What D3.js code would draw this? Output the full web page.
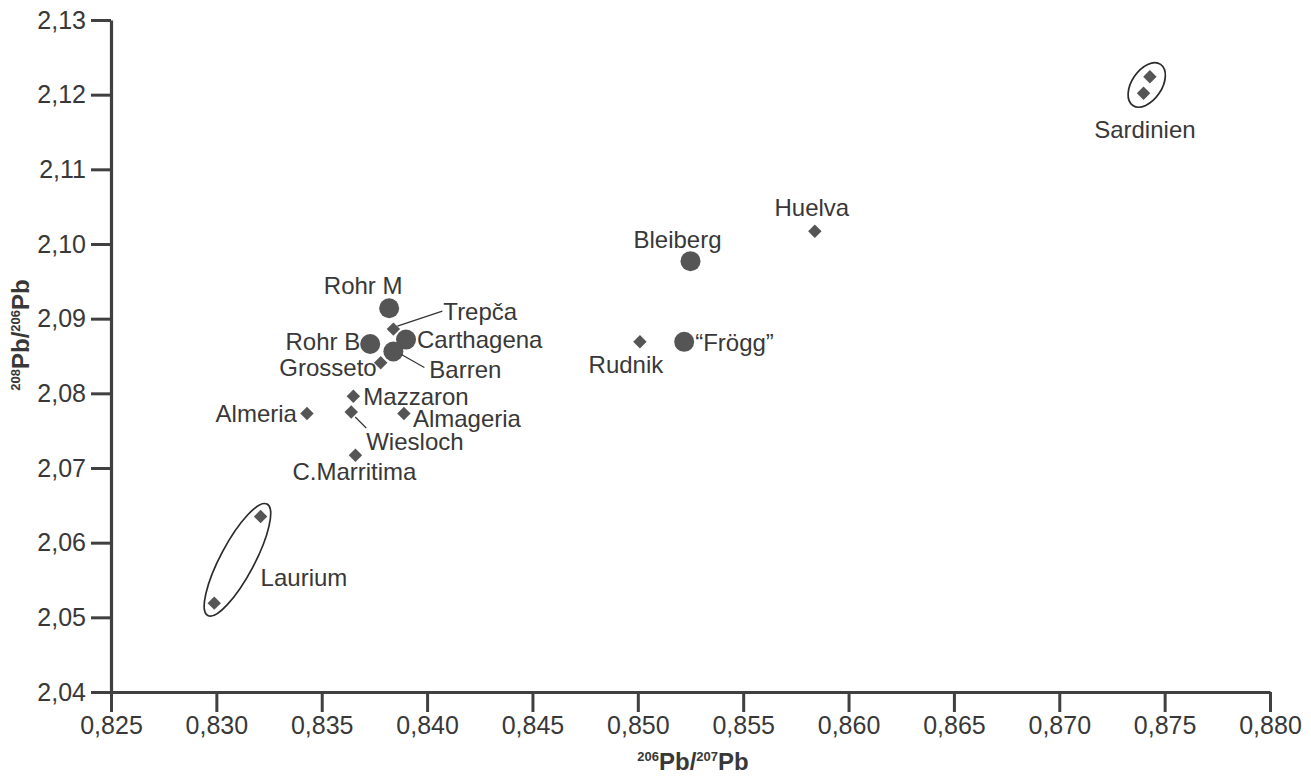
<!DOCTYPE html>
<html>
<head>
<meta charset="utf-8">
<script src="https://cdn.jsdelivr.net/npm/d3@7"></script>
<style>
  body { margin: 0; background: #fff; }
  svg text { font-family: "Liberation Sans", Arial, Helvetica, sans-serif; }
</style>
</head>
<body>
<svg id="chart" width="1311" height="779"></svg>
<script>
// lead isotope ratios
var sites = ["Sardinien", "Sardinien", "Huelva", "Bleiberg", "\u201cFrögg\u201d", "Rudnik",
  "Rohr M", "Trepča", "Carthagena", "Rohr B", "Barren", "Grosseto", "Mazzaron",
  "Wiesloch", "Almeria", "Almageria", "C.Marritima", "Laurium", "Laurium"];
var pb206_207 = [0.8743, 0.8740, 0.8584, 0.8525, 0.8522, 0.8501,
  0.8382, 0.8384, 0.8390, 0.8373, 0.8384, 0.8378, 0.8365,
  0.8364, 0.8343, 0.8389, 0.8366, 0.8321, 0.8299];
var pb208_206 = [2.1224, 2.1202, 2.1017, 2.0977, 2.0869, 2.0869,
  2.0914, 2.0886, 2.0872, 2.0866, 2.0856, 2.0841, 2.0796,
  2.0775, 2.0773, 2.0773, 2.0717, 2.0635, 2.0519];
var markers = ["diamond", "diamond", "diamond", "circle", "circle", "diamond",
  "circle", "diamond", "circle", "circle", "circle", "diamond", "diamond",
  "diamond", "diamond", "diamond", "diamond", "diamond", "diamond"];
var xTicks = [0.825, 0.830, 0.835, 0.840, 0.845, 0.850, 0.855, 0.860, 0.865, 0.870, 0.875, 0.880];
var yTicks = [2.04, 2.05, 2.06, 2.07, 2.08, 2.09, 2.10, 2.11, 2.12, 2.13];
var groups = ["Laurium", "Sardinien"];

// label placement in px relative to the first point of each site
var labelLayout = {
  "Sardinien":    { dx: -5,  dy: 53,  anchor: "middle" },
  "Huelva":       { dx: -3,  dy: -24, anchor: "middle" },
  "Bleiberg":     { dx: -13, dy: -22, anchor: "middle" },
  "\u201cFrögg\u201d": { dx: 11, dy: 1, anchor: "start" },
  "Rudnik":       { dx: -14, dy: 23,  anchor: "middle" },
  "Rohr M":       { dx: -26, dy: -23, anchor: "middle" },
  "Trepča":       { dx: 50,  dy: -18, anchor: "start", leader: [4, -3, 49, -18] },
  "Carthagena":   { dx: 11,  dy: 0,   anchor: "start" },
  "Rohr B":       { dx: -10, dy: -2,  anchor: "end" },
  "Barren":       { dx: 36,  dy: 18,  anchor: "start", leader: [8, 3, 31, 16] },
  "Grosseto":     { dx: -4,  dy: 5,   anchor: "end" },
  "Mazzaron":     { dx: 10,  dy: 0,   anchor: "start" },
  "Wiesloch":     { dx: 15,  dy: 30,  anchor: "start", leader: [4, 5, 15, 16] },
  "Almeria":      { dx: -10, dy: 0,   anchor: "end" },
  "Almageria":    { dx: 9,   dy: 5,   anchor: "start" },
  "C.Marritima":  { dx: -1,  dy: 16,  anchor: "middle" },
  "Laurium":      { dx: 0,   dy: 61,  anchor: "start" }
};
var ellipseLayout = {
  "Laurium":   { pad: 14, ry: 17, angle: -62 },
  "Sardinien": { pad: 16, ry: 15, angle: -56 }
};

var svg = d3.select("#chart");
var ink = "#383838", markFill = "#555";

var x = d3.scaleLinear().domain([0.825, 0.880]).range([111, 1270]);
var y = d3.scaleLinear().domain([2.04, 2.13]).range([692, 20]);

var comma = d3.formatLocale({ decimal: ",", thousands: ".", grouping: [3], currency: ["", ""] });

var xAxis = svg.append("g")
  .attr("transform", "translate(0," + y(2.04) + ")")
  .call(d3.axisBottom(x).tickValues(xTicks).tickFormat(comma.format(".3f"))
    .tickSize(20).tickSizeOuter(0).tickPadding(4));
var yAxis = svg.append("g")
  .attr("transform", "translate(" + x(0.825) + ",0)")
  .call(d3.axisLeft(y).tickValues(yTicks).tickFormat(comma.format(".2f"))
    .tickSize(20).tickSizeOuter(0).tickPadding(5));

[xAxis, yAxis].forEach(function(ax) {
  ax.select(".domain").attr("stroke", "#404040").attr("stroke-width", 3.2);
  ax.selectAll(".tick line").attr("stroke", "#404040").attr("stroke-width", 3);
  ax.selectAll(".tick text").attr("fill", ink).style("font-size", "25px");
});

// axis titles with superscript mass numbers
function isoTitle(sel, a, b) {
  sel.append("tspan").text(a).style("font-size", "13px").attr("dy", -9);
  sel.append("tspan").text("Pb/").attr("dy", 9);
  sel.append("tspan").text(b).style("font-size", "13px").attr("dy", -9);
  sel.append("tspan").text("Pb").attr("dy", 9);
}
svg.append("text")
  .attr("x", 693).attr("y", 770)
  .attr("text-anchor", "middle").attr("fill", ink)
  .style("font-size", "24px").style("font-weight", "bold")
  .call(isoTitle, "206", "207");
svg.append("text")
  .attr("transform", "translate(29,335) rotate(-90)")
  .attr("text-anchor", "middle").attr("fill", ink)
  .style("font-size", "24px").style("font-weight", "bold")
  .call(isoTitle, "208", "206");

var points = sites.map(function(s, i) {
  return { site: s, px: x(pb206_207[i]), py: y(pb208_206[i]), marker: markers[i] };
});

// grouping ellipses
groups.forEach(function(g) {
  var pts = points.filter(function(p) { return p.site === g; });
  var cx = d3.mean(pts, function(p) { return p.px; });
  var cy = d3.mean(pts, function(p) { return p.py; });
  var half = Math.hypot(pts[0].px - pts[1].px, pts[0].py - pts[1].py) / 2;
  var L = ellipseLayout[g];
  svg.append("ellipse")
    .attr("cx", 0).attr("cy", 0)
    .attr("rx", half + L.pad).attr("ry", L.ry)
    .attr("transform", "translate(" + cx + "," + cy + ") rotate(" + L.angle + ")")
    .attr("fill", "none").attr("stroke", "#2b2b2b").attr("stroke-width", 1.7);
});

var diamond = d3.symbol().type(d3.symbolSquare).size(90);
svg.append("g").selectAll("path")
  .data(points.filter(function(p) { return p.marker === "diamond"; }))
  .enter().append("path")
  .attr("d", diamond)
  .attr("transform", function(d) { return "translate(" + d.px + "," + d.py + ") rotate(45)"; })
  .attr("fill", markFill);

svg.append("g").selectAll("circle")
  .data(points.filter(function(p) { return p.marker === "circle"; }))
  .enter().append("circle")
  .attr("cx", function(d) { return d.px; })
  .attr("cy", function(d) { return d.py; })
  .attr("r", 10)
  .attr("fill", markFill);

// labels (once per site)
var seen = {};
var labelled = points.filter(function(p) {
  if (seen[p.site]) return false;
  seen[p.site] = true;
  return true;
});

labelled.forEach(function(p) {
  var L = labelLayout[p.site];
  if (L.leader) {
    svg.append("line")
      .attr("x1", p.px + L.leader[0]).attr("y1", p.py + L.leader[1])
      .attr("x2", p.px + L.leader[2]).attr("y2", p.py + L.leader[3])
      .attr("stroke", "#333").attr("stroke-width", 1.2);
  }
  svg.append("text")
    .attr("x", p.px + L.dx).attr("y", p.py + L.dy)
    .attr("dy", "0.35em")
    .attr("text-anchor", L.anchor)
    .attr("fill", ink)
    .style("font-size", "24px")
    .text(p.site);
});
</script>
</body>
</html>
